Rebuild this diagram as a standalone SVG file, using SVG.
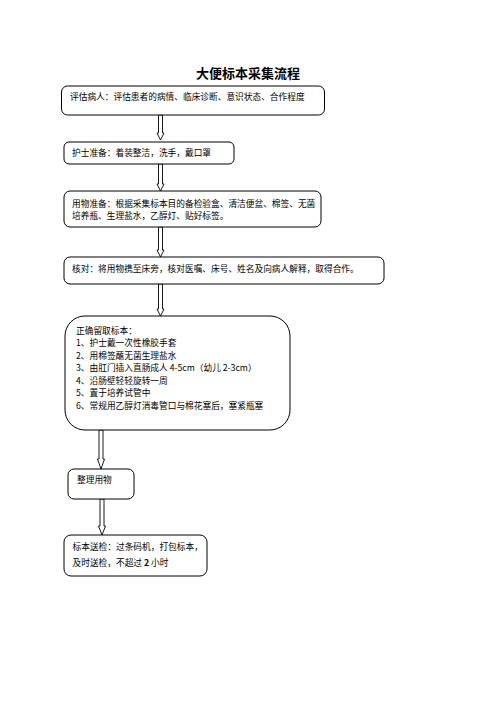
<svg xmlns="http://www.w3.org/2000/svg" width="496" height="702" viewBox="0 0 496 702">
<style>
.box{fill:#fff;stroke:#000;stroke-width:1}
.arr{fill:#fff;stroke:#000;stroke-width:0.9;stroke-linejoin:miter}
.t{font-family:"Noto Sans CJK SC","Liberation Sans",sans-serif;font-size:8.7px;fill:#000}
.b{font-weight:bold}
.title{font-family:"Noto Sans CJK SC","Liberation Sans",sans-serif;font-size:13px;font-weight:bold;fill:#000}
</style>
<rect width="496" height="702" fill="#fff"/>
<text class="title" x="248" y="78" text-anchor="middle">大便标本采集流程</text>
<g id="connectors">
<polygon class="arr" points="158.5,115 162.5,115 162.5,133 164,133 160.5,140 157,133 158.5,133"/>
<polygon class="arr" points="158.5,164 162.5,164 162.5,184 164,184 160.5,191 157,184 158.5,184"/>
<polygon class="arr" points="158.5,227 162.5,227 162.5,250 164,250 160.5,257 157,250 158.5,250"/>
<polygon class="arr" points="158.5,284 162.5,284 162.5,309 164,309 160.5,316 157,309 158.5,309"/>
<polygon class="arr" points="99,430 103,430 103,459 104.5,459 101,469 97.5,459 99,459"/>
<polygon class="arr" points="100,499 104,499 104,526 105.5,526 102,535 98.5,526 100,526"/>
</g>
<g id="n1">
<rect class="box" x="61.5" y="86" width="263" height="29" rx="6"/>
<text class="t" x="70" y="100">评估病人：评估患者的病情、临床诊断、意识状态、合作程度</text>
</g>
<g id="n2">
<rect class="box" x="64" y="142" width="170" height="22" rx="5"/>
<text class="t" x="72" y="156">护士准备：着装整洁，洗手，戴口罩</text>
</g>
<g id="n3">
<rect class="box" x="64" y="191" width="257" height="36" rx="6"/>
<text class="t" x="72" y="207">用物准备：根据采集标本目的备检验盒、清洁便盆、棉签、无菌</text>
<text class="t" x="72" y="219">培养瓶、生理盐水，乙醇灯、贴好标签。</text>
</g>
<g id="n4">
<rect class="box" x="64" y="257" width="320" height="27" rx="6"/>
<text class="t" x="72" y="272">核对：将用物携至床旁，核对医嘱、床号、姓名及向病人解释，取得合作。</text>
</g>
<g id="n5">
<rect class="box" x="65" y="316" width="225" height="114" rx="20"/>
<text class="t" x="76" y="334">正确留取标本：</text>
<text class="t" x="76" y="346">1、护士戴一次性橡胶手套</text>
<text class="t" x="76" y="358.5">2、用棉签蘸无菌生理盐水</text>
<text class="t" x="76" y="371">3、由肛门插入直肠成人 4-5cm（幼儿 2-3cm）</text>
<text class="t" x="76" y="383.5">4、沿肠壁轻轻旋转一周</text>
<text class="t" x="76" y="396">5、置于培养试管中</text>
<text class="t" x="76" y="409">6、常规用乙醇灯消毒管口与棉花塞后，塞紧瓶塞</text>
</g>
<g id="n6">
<rect class="box" x="68" y="469" width="66" height="30" rx="6"/>
<text class="t" x="77" y="483">整理用物</text>
</g>
<g id="n7">
<rect class="box" x="64" y="535" width="143" height="41" rx="7"/>
<text class="t" x="72.5" y="550">标本送检：过条码机，打包标本，</text>
<text class="t" x="72.5" y="566">及时送检，不超过 <tspan class="b">2</tspan> 小时</text>
</g>
</svg>
